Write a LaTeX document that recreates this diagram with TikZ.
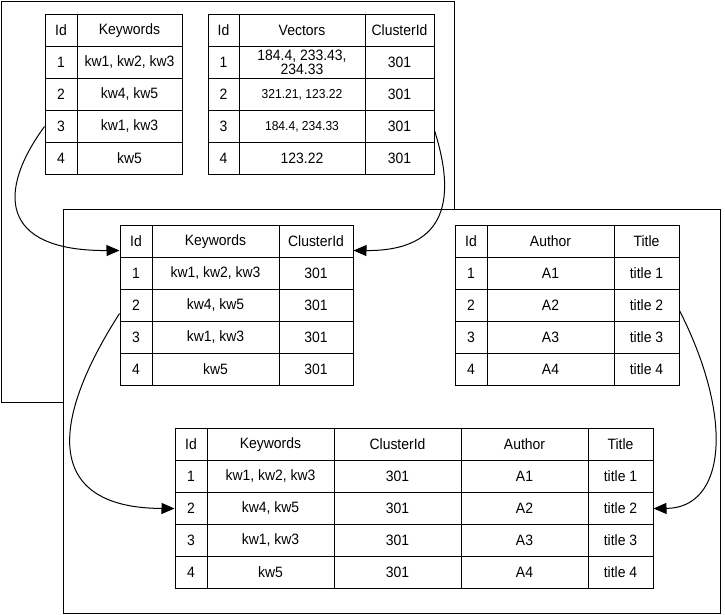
\documentclass[tikz,border=0pt]{standalone}
\usepackage{fontspec}
\setmainfont{Liberation Sans}[FakeStretch=0.93]
\usetikzlibrary{arrows.meta}
\tikzset{
  cell/.style={draw, line width=1pt, inner sep=0pt, minimum height=32pt, anchor=north west, font=\fontsize{15}{16}\selectfont, align=center},
  small/.style={font=\fontsize{13}{14}\selectfont},
  frame/.style={draw, line width=1pt, fill=white},
  link/.style={line width=1pt, -{Triangle[length=13pt,width=11pt]}}
}
\newcommand\tc[6][]{\node[cell, minimum width=#5pt, #1] (#2) at (#3,#4) {#6};}
\begin{document}
\begin{tikzpicture}[x=1pt, y=-1pt]
\useasboundingbox (0,0) rectangle (725,614);
% outer frame 1
\draw[frame] (1.5,1.5) rectangle (454.5,402.5);
% table 1
\tc{a00}{44.5}{14}{32}{Id}\tc{a01}{76.5}{14}{105}{Keywords}
\tc{a10}{44.5}{46}{32}{1}\tc{a11}{76.5}{46}{105}{kw1, kw2, kw3}
\tc{a20}{44.5}{78}{32}{2}\tc{a21}{76.5}{78}{105}{kw4, kw5}
\tc{a30}{44.5}{110}{32}{3}\tc{a31}{76.5}{110}{105}{kw1, kw3}
\tc{a40}{44.5}{142}{32}{4}\tc{a41}{76.5}{142}{105}{kw5}
% table 2
\tc{b00}{207.5}{14}{31}{Id}\tc{b01}{238.5}{14}{126}{Vectors}\tc{b02}{364.5}{14}{69}{ClusterId}
\tc{b10}{207.5}{46}{31}{1}\tc{b11}{238.5}{46}{126}{184.4, 233.43,\\[-2pt]234.33}\tc{b12}{364.5}{46}{69}{301}
\tc{b20}{207.5}{78}{31}{2}\tc[small]{b21}{238.5}{78}{126}{321.21, 123.22}\tc{b22}{364.5}{78}{69}{301}
\tc{b30}{207.5}{110}{31}{3}\tc[small]{b31}{238.5}{110}{126}{184.4, 234.33}\tc{b32}{364.5}{110}{69}{301}
\tc{b40}{207.5}{142}{31}{4}\tc{b41}{238.5}{142}{126}{123.22}\tc{b42}{364.5}{142}{69}{301}
% outer frame 2
\draw[frame] (63.5,209.5) rectangle (720,613);
% table 3
\tc{c00}{119.5}{225}{32}{Id}\tc{c01}{151.5}{225}{127}{Keywords}\tc{c02}{278.5}{225}{74}{ClusterId}
\tc{c10}{119.5}{257}{32}{1}\tc{c11}{151.5}{257}{127}{kw1, kw2, kw3}\tc{c12}{278.5}{257}{74}{301}
\tc{c20}{119.5}{289}{32}{2}\tc{c21}{151.5}{289}{127}{kw4, kw5}\tc{c22}{278.5}{289}{74}{301}
\tc{c30}{119.5}{321}{32}{3}\tc{c31}{151.5}{321}{127}{kw1, kw3}\tc{c32}{278.5}{321}{74}{301}
\tc{c40}{119.5}{353}{32}{4}\tc{c41}{151.5}{353}{127}{kw5}\tc{c42}{278.5}{353}{74}{301}
% table 4
\tc{d00}{454.5}{225}{32}{Id}\tc{d01}{486.5}{225}{127}{Author}\tc{d02}{613.5}{225}{65}{Title}
\tc{d10}{454.5}{257}{32}{1}\tc{d11}{486.5}{257}{127}{A1}\tc{d12}{613.5}{257}{65}{title 1}
\tc{d20}{454.5}{289}{32}{2}\tc{d21}{486.5}{289}{127}{A2}\tc{d22}{613.5}{289}{65}{title 2}
\tc{d30}{454.5}{321}{32}{3}\tc{d31}{486.5}{321}{127}{A3}\tc{d32}{613.5}{321}{65}{title 3}
\tc{d40}{454.5}{353}{32}{4}\tc{d41}{486.5}{353}{127}{A4}\tc{d42}{613.5}{353}{65}{title 4}
% table 5
\tc{e00}{174.5}{428}{32}{Id}\tc{e01}{206.5}{428}{127}{Keywords}\tc{e02}{333.5}{428}{127}{ClusterId}\tc{e03}{460.5}{428}{127}{Author}\tc{e04}{587.5}{428}{65}{Title}
\tc{e10}{174.5}{460}{32}{1}\tc{e11}{206.5}{460}{127}{kw1, kw2, kw3}\tc{e12}{333.5}{460}{127}{301}\tc{e13}{460.5}{460}{127}{A1}\tc{e14}{587.5}{460}{65}{title 1}
\tc{e20}{174.5}{492}{32}{2}\tc{e21}{206.5}{492}{127}{kw4, kw5}\tc{e22}{333.5}{492}{127}{301}\tc{e23}{460.5}{492}{127}{A2}\tc{e24}{587.5}{492}{65}{title 2}
\tc{e30}{174.5}{524}{32}{3}\tc{e31}{206.5}{524}{127}{kw1, kw3}\tc{e32}{333.5}{524}{127}{301}\tc{e33}{460.5}{524}{127}{A3}\tc{e34}{587.5}{524}{65}{title 3}
\tc{e40}{174.5}{556}{32}{4}\tc{e41}{206.5}{556}{127}{kw5}\tc{e42}{333.5}{556}{127}{301}\tc{e43}{460.5}{556}{127}{A4}\tc{e44}{587.5}{556}{65}{title 4}
% connectors
\draw[link] (a30.west) .. controls (-2,190) and (-2,251) .. ([yshift=-9pt]c00.west);
\draw[link] ([yshift=-4pt]b32.east) .. controls (455,195) and (450,251) .. ([yshift=-9pt]c02.east);
\draw[link] ([yshift=-8pt]c20.west) .. controls (45,430) and (50,508) .. (e20.west);
\draw[link] ([yshift=-5pt]d22.east) .. controls (735,420) and (725,508) .. (e24.east);
\end{tikzpicture}
\end{document}
